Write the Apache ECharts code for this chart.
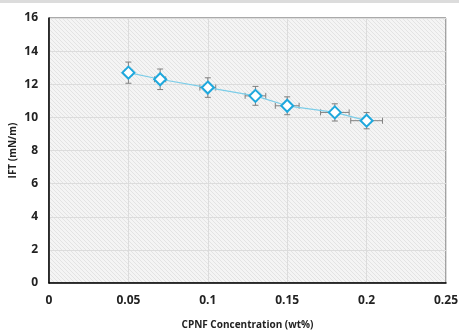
<!DOCTYPE html>
<html>
<head>
<meta charset="utf-8">
<script src="https://cdn.jsdelivr.net/npm/echarts@6/dist/echarts.min.js"></script>
<style>
  html, body { margin: 0; padding: 0; background: #fff; }
  #topbar { position: absolute; left: 0; top: 0; width: 459px; height: 3px; background: #dcdcdc; }
  #chart { width: 459px; height: 336px; }
</style>
</head>
<body>
<div id="topbar"></div>
<div id="chart"></div>
<script>
// CPNF concentration (wt%)
const concentration = [0.05, 0.07, 0.1, 0.13, 0.15, 0.18, 0.2]
// IFT (mN/m)
const ift = [12.7, 12.3, 11.8, 11.3, 10.7, 10.3, 9.8]
// error bars
const iftErr = [0.64, 0.62, 0.59, 0.57, 0.54, 0.52, 0.49]
const concErr = [0.0025, 0.0035, 0.005, 0.0065, 0.0075, 0.009, 0.01]

const FONT = '"Open Sans", "Liberation Sans", sans-serif'

// hatched plot background
function hatch() {
  const c = document.createElement('canvas')
  c.width = 4
  c.height = 4
  const ctx = c.getContext('2d')
  ctx.fillStyle = '#f4f4f4'
  ctx.fillRect(0, 0, 4, 4)
  ctx.strokeStyle = '#e3e3e3'
  ctx.lineWidth = 1
  ctx.beginPath()
  ctx.moveTo(0, 0)
  ctx.lineTo(4, 4)
  ctx.stroke()
  return c
}

const points = concentration.map((x, i) => [x, ift[i]])
const errData = concentration.map((x, i) => [x, ift[i], concErr[i], iftErr[i]])

const chart = echarts.init(document.getElementById('chart'))
chart.setOption({
  animation: false,
  grid: {
    left: 49,
    right: 13,
    top: 18,
    bottom: 53,
    containLabel: false,
    outerBoundsMode: 'none',
    show: true,
    borderColor: '#555',
    borderWidth: 1,
    backgroundColor: { image: hatch(), repeat: 'repeat' }
  },
  xAxis: {
    type: 'value',
    min: 0,
    max: 0.25,
    interval: 0.05,
    name: 'CPNF Concentration (wt%)',
    nameLocation: 'middle',
    nameGap: 37,
    nameMoveOverlap: false,
    nameTextStyle: { fontFamily: FONT, fontWeight: 'bold', fontSize: 10, color: '#222' },
    axisLine: { lineStyle: { color: '#000', width: 1.5 } },
    axisTick: { show: false },
    axisLabel: { fontFamily: FONT, fontWeight: 'bold', fontSize: 12, color: '#222', margin: 12 },
    splitLine: { lineStyle: { color: '#dcdcdc' } }
  },
  yAxis: {
    type: 'value',
    min: 0,
    max: 16,
    interval: 2,
    name: 'IFT (mN/m)',
    nameLocation: 'middle',
    nameGap: 31,
    nameMoveOverlap: false,
    nameTextStyle: { fontFamily: FONT, fontWeight: 'bold', fontSize: 10, color: '#222' },
    axisLine: { show: true, lineStyle: { color: '#000', width: 1.5 } },
    axisTick: { show: false },
    axisLabel: { fontFamily: FONT, fontWeight: 'bold', fontSize: 12, color: '#222', margin: 11 },
    splitLine: { lineStyle: { color: '#dcdcdc' } }
  },
  series: [
    {
      type: 'custom',
      data: errData,
      z: 2,
      renderItem: function(params, api) {
        const x = api.value(0)
        const y = api.value(1)
        const xe = api.value(2)
        const ye = api.value(3)
        const top = api.coord([x, y + ye])
        const bot = api.coord([x, y - ye])
        const lft = api.coord([x - xe, y])
        const rgt = api.coord([x + xe, y])
        const cap = 3
        const style = { stroke: '#808080', lineWidth: 1 }
        const line = (x1, y1, x2, y2) => ({ type: 'line', shape: { x1, y1, x2, y2 }, style })
        return {
          type: 'group',
          children: [
            line(top[0], top[1], bot[0], bot[1]),
            line(top[0] - cap, top[1], top[0] + cap, top[1]),
            line(bot[0] - cap, bot[1], bot[0] + cap, bot[1]),
            line(lft[0], lft[1], rgt[0], rgt[1]),
            line(lft[0], lft[1] - cap, lft[0], lft[1] + cap),
            line(rgt[0], rgt[1] - cap, rgt[0], rgt[1] + cap)
          ]
        }
      }
    },
    {
      type: 'line',
      data: points,
      z: 3,
      symbol: 'diamond',
      symbolSize: 12,
      showAllSymbol: true,
      lineStyle: { color: '#7ccde8', width: 1.2 },
      itemStyle: { color: '#fff', borderColor: '#1ea8dd', borderWidth: 2 }
    }
  ]
})
</script>
</body>
</html>
